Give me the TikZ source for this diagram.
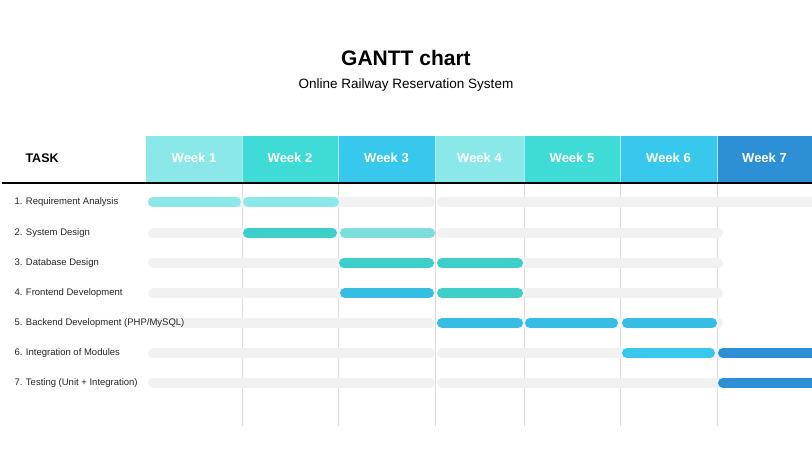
\documentclass[tikz,border=0pt]{standalone}
\usepackage{fontspec}
\setmainfont{Liberation Sans}
\definecolor{cA}{HTML}{8AE8E8}
\definecolor{cB}{HTML}{3FDBD6}
\definecolor{cC}{HTML}{38C8EE}
\definecolor{cD}{HTML}{2D90D4}
\definecolor{bT}{HTML}{3ECFCB}
\definecolor{bL}{HTML}{7DDCDC}
\definecolor{bS}{HTML}{35BDE3}
\definecolor{trk}{HTML}{F1F1F1}
\definecolor{grd}{HTML}{DDDDDD}
\begin{document}
\begin{tikzpicture}[x=1pt,y=-1pt,
  hdr/.style={font=\bfseries\fontsize{13}{15}\selectfont,text=white},
  lbl/.style={font=\fontsize{9.5}{11}\selectfont,anchor=west,text=black!85},
  bar/.style={line width=10pt,line cap=round}]
\useasboundingbox[fill=white] (0,0) rectangle (812,466);
\node[font=\bfseries\fontsize{21}{24}\selectfont] (title) at (406,58) {GANTT chart};
\node[font=\fontsize{13.5}{16}\selectfont] (sub) at (406,85) {Online Railway Reservation System};
\node[font=\bfseries\fontsize{12.5}{15}\selectfont,anchor=west] (task) at (22,158) {TASK};
% header cells
\foreach \a/\b/\c/\t [count=\i] in {146/242/cA/Week 1,242/338/cB/Week 2,338/435/cC/Week 3,435/524/cA/Week 4,524/620/cB/Week 5,620/717/cC/Week 6,717/812/cD/Week 7}{
  \fill[\c] (\a,136) rectangle (\b,182);
  \node[hdr] (w\i) at ({(\a+\b)/2},158) {\t};
}
\foreach \x in {242,338,435,524,620,717} \draw[white!60!cC,line width=0.5pt] (\x,136) -- (\x,182);
\draw[line width=1.6pt] (2,183) -- (812,183);
% grid
\foreach \x in {242,338,435,524,620,717} \draw[grd,line width=0.6pt] (\x,184) -- (\x,426);
% tracks
\foreach \y/\e in {202/812,233/718,263/718,293/718,323/718,353/812,383/812}{
  \draw[trk,bar] (153,\y) -- (430,\y);
  \draw[trk,bar] (442,\y) -- (\e,\y);
}
% bars
\draw[cA,bar] (153,202) -- (236,202);
\draw[cA,bar] (248,202) -- (334,202);
\draw[bT,bar] (248,233) -- (332,233);
\draw[bL,bar] (345,233) -- (430,233);
\draw[bT,bar] (344,263) -- (429,263);
\draw[bT,bar] (442,263) -- (518,263);
\draw[bS,bar] (345,293) -- (429,293);
\draw[bT,bar] (442,293) -- (518,293);
\draw[bS,bar] (442,323) -- (518,323);
\draw[bS,bar] (530,323) -- (613,323);
\draw[bS,bar] (627,323) -- (712,323);
\draw[cC,bar] (627,353) -- (710,353);
\draw[cD,bar] (723,353) -- (820,353);
\draw[cD,bar] (723,383) -- (820,383);
\fill[white] (812,0) rectangle (830,466);
% labels
\node[lbl] (t1) at (11,202) {1. Requirement Analysis};
\node[lbl] (t2) at (11,233) {2. System Design};
\node[lbl] (t3) at (11,263) {3. Database Design};
\node[lbl] (t4) at (11,293) {4. Frontend Development};
\node[lbl] (t5) at (11,323) {5. Backend Development (PHP/MySQL)};
\node[lbl] (t6) at (11,353) {6. Integration of Modules};
\node[lbl] (t7) at (11,383) {7. Testing (Unit + Integration)};
\end{tikzpicture}
\end{document}
